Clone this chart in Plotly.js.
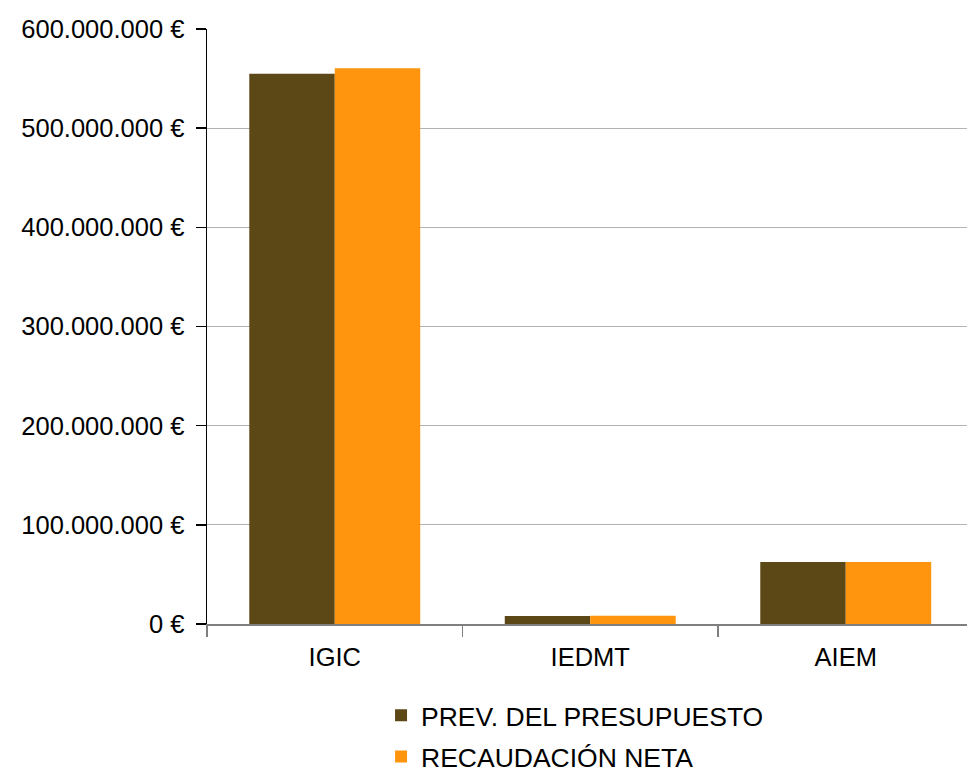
<!DOCTYPE html>
<html>
<head>
<meta charset="utf-8">
<script src="https://cdn.plot.ly/plotly-3.0.1.min.js"></script>
<style>html,body{margin:0;padding:0;background:#fff;}#chart{width:967px;height:773px;}</style>
</head>
<body>
<div id="chart"></div>
<script>
const categories = ["IGIC", "IEDMT", "AIEM"];
const seriesNames = ["PREV. DEL PRESUPUESTO", "RECAUDACIÓN NETA"];
const prevPresupuesto = [555000000, 8000000, 62500000];
const recaudacionNeta = [560500000, 8200000, 62500000];
const yTickVals = [0, 100000000, 200000000, 300000000, 400000000, 500000000, 600000000];
const yTickText = yTickVals.map(v => String(v).replace(/\B(?=(\d{3})+(?!\d))/g, ".") + " €");

const font = {family: "Liberation Sans, Arial, sans-serif", size: 25.5, color: "#000"};

const traces = [
  {type: "bar", name: seriesNames[0], x: categories, y: prevPresupuesto,
   marker: {color: "#5c4716", line: {width: 0}}, legendgroup: "a", hoverinfo: "skip"},
  {type: "bar", name: seriesNames[1], x: categories, y: recaudacionNeta,
   marker: {color: "#ff950e", line: {width: 0}}, legendgroup: "b", hoverinfo: "skip"}
];

const layout = {
  width: 967, height: 773,
  margin: {l: 207, r: 0, t: 29, b: 149, pad: 0, autoexpand: false},
  paper_bgcolor: "#fff", plot_bgcolor: "#fff",
  font: font,
  barmode: "group",
  bargap: 0.331,
  bargroupgap: 0,
  xaxis: {
    type: "category",
    range: [-0.5, 2.4746],
    showgrid: false,
    showline: true, linecolor: "#7f7f7f", linewidth: 1.5,
    ticks: "outside", tickson: "boundaries", ticklen: 11, tickcolor: "#7f7f7f", tickwidth: 1.5,
    ticklabelstandoff: 10,
    tickfont: font,
    zeroline: false,
    automargin: false,
    fixedrange: true
  },
  yaxis: {
    range: [0, 600000000],
    tickmode: "array",
    tickvals: yTickVals,
    ticktext: yTickText,
    showgrid: true, gridcolor: "#b3b3b3", gridwidth: 1,
    showline: true, linecolor: "#000", linewidth: 1.5,
    ticks: "outside", ticklen: 10, tickcolor: "#000", tickwidth: 1.5,
    ticklabelstandoff: 6,
    tickfont: font,
    zeroline: false,
    automargin: false,
    fixedrange: true
  },
  showlegend: true,
  legend: {
    orientation: "v",
    x: 0.229, xanchor: "left",
    yref: "container",
    y: 0.1055, yanchor: "top",
    font: {family: font.family, size: 26.5, color: "#000"},
    tracegroupgap: 4,
    bgcolor: "rgba(0,0,0,0)"
  }
};

Plotly.newPlot("chart", traces, layout, {displayModeBar: false, staticPlot: true});
</script>
</body>
</html>
